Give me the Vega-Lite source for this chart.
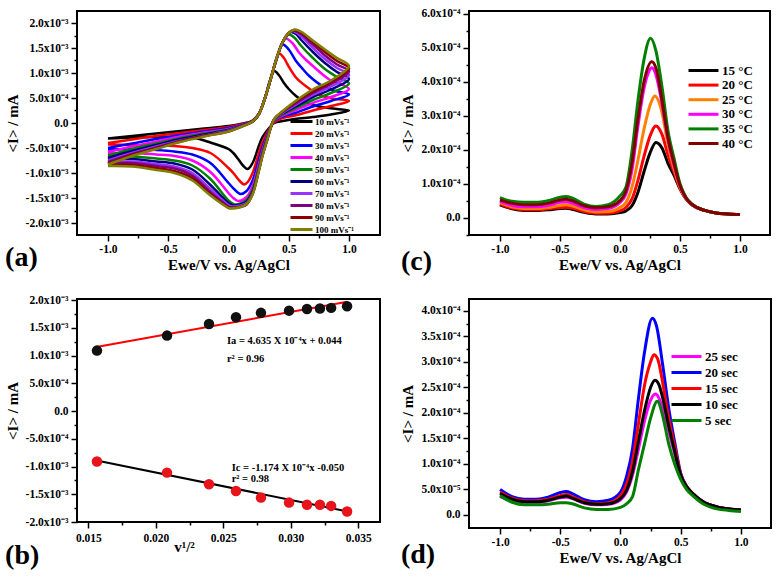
{
"$schema": "https://vega.github.io/schema/vega-lite/v6.json",
"background": "white",
"padding": {"left": 4, "top": 6, "right": 2, "bottom": 2},
"config": {
 "font": "Liberation Serif",
 "view": {"stroke": "black", "strokeWidth": 2},
 "axis": {"grid": false, "domain": false, "labelFont": "Liberation Serif", "labelFontWeight": "bold", "labelFontSize": 11.5, "labelColor": "black", "titleFont": "Liberation Serif", "titleFontWeight": "bold", "titleFontSize": 15, "titleColor": "black", "tickColor": "black", "tickWidth": 1.5, "tickSize": 6, "labelFlush": false, "labelOverlap": false},
 "legend": {"labelFont": "Liberation Serif", "labelFontWeight": "bold", "labelColor": "black", "padding": 0, "symbolStrokeWidth": 3},
 "title": {"font": "Liberation Serif", "fontWeight": "bold", "fontSize": 28, "color": "black"}
},
"datasets": {
 "cv": [
  {"s":10,"e":-1,"i":-0.31e-3},{"s":10,"e":-0.8,"i":-0.26e-3},{"s":10,"e":-0.6,"i":-0.21e-3},{"s":10,"e":-0.4,"i":-0.16e-3},{"s":10,"e":-0.2,"i":-0.11e-3},{"s":10,"e":0,"i":-0.06e-3},{"s":10,"e":0.1,"i":-0.02e-3},{"s":10,"e":0.2,"i":0.05e-3},{"s":10,"e":0.25,"i":0.18e-3},{"s":10,"e":0.3,"i":0.47e-3},{"s":10,"e":0.34,"i":0.82e-3},{"s":10,"e":0.38,"i":1.04e-3},{"s":10,"e":0.42,"i":0.95e-3},{"s":10,"e":0.46,"i":0.8e-3},{"s":10,"e":0.5,"i":0.68e-3},{"s":10,"e":0.56,"i":0.54e-3},{"s":10,"e":0.62,"i":0.44e-3},{"s":10,"e":0.7,"i":0.36e-3},{"s":10,"e":0.8,"i":0.31e-3},{"s":10,"e":0.9,"i":0.28e-3},{"s":10,"e":1,"i":0.25e-3},
  {"s":10,"e":0.85,"i":0.17e-3},{"s":10,"e":0.7,"i":0.12e-3},{"s":10,"e":0.55,"i":0.08e-3},{"s":10,"e":0.45,"i":0.04e-3},{"s":10,"e":0.38,"i":0.0},{"s":10,"e":0.32,"i":-0.15e-3},{"s":10,"e":0.28,"i":-0.29e-3},{"s":10,"e":0.25,"i":-0.47e-3},{"s":10,"e":0.2,"i":-0.8e-3},{"s":10,"e":0.16,"i":-0.92e-3},{"s":10,"e":0.12,"i":-0.85e-3},{"s":10,"e":0.08,"i":-0.72e-3},{"s":10,"e":0.04,"i":-0.6e-3},{"s":10,"e":0,"i":-0.52e-3},{"s":10,"e":-0.15,"i":-0.39e-3},{"s":10,"e":-0.3,"i":-0.29e-3},{"s":10,"e":-0.45,"i":-0.28e-3},{"s":10,"e":-0.6,"i":-0.28e-3},{"s":10,"e":-0.8,"i":-0.29e-3},{"s":10,"e":-1,"i":-0.31e-3},

  {"s":20,"e":-1,"i":-0.4e-3},{"s":20,"e":-0.8,"i":-0.33e-3},{"s":20,"e":-0.6,"i":-0.26e-3},{"s":20,"e":-0.4,"i":-0.2e-3},{"s":20,"e":-0.2,"i":-0.14e-3},{"s":20,"e":0,"i":-0.08e-3},{"s":20,"e":0.1,"i":-0.03e-3},{"s":20,"e":0.2,"i":0.04e-3},{"s":20,"e":0.25,"i":0.17e-3},{"s":20,"e":0.3,"i":0.48e-3},{"s":20,"e":0.35,"i":0.88e-3},{"s":20,"e":0.39,"i":1.22e-3},{"s":20,"e":0.42,"i":1.39e-3},{"s":20,"e":0.46,"i":1.3e-3},{"s":20,"e":0.49,"i":1.17e-3},{"s":20,"e":0.56,"i":0.91e-3},{"s":20,"e":0.64,"i":0.74e-3},{"s":20,"e":0.75,"i":0.57e-3},{"s":20,"e":0.86,"i":0.49e-3},{"s":20,"e":1,"i":0.44e-3},
  {"s":20,"e":0.85,"i":0.34e-3},{"s":20,"e":0.7,"i":0.25e-3},{"s":20,"e":0.55,"i":0.15e-3},{"s":20,"e":0.45,"i":0.1e-3},{"s":20,"e":0.38,"i":0.02e-3},{"s":20,"e":0.32,"i":-0.2e-3},{"s":20,"e":0.28,"i":-0.4e-3},{"s":20,"e":0.25,"i":-0.62e-3},{"s":20,"e":0.2,"i":-1.0e-3},{"s":20,"e":0.16,"i":-1.18e-3},{"s":20,"e":0.13,"i":-1.23e-3},{"s":20,"e":0.09,"i":-1.15e-3},{"s":20,"e":0.05,"i":-1.03e-3},{"s":20,"e":0,"i":-0.9e-3},{"s":20,"e":-0.15,"i":-0.6e-3},{"s":20,"e":-0.3,"i":-0.5e-3},{"s":20,"e":-0.45,"i":-0.46e-3},{"s":20,"e":-0.6,"i":-0.45e-3},{"s":20,"e":-0.8,"i":-0.44e-3},{"s":20,"e":-1,"i":-0.43e-3},

  {"s":30,"e":-1,"i":-0.5e-3},{"s":30,"e":-0.8,"i":-0.41e-3},{"s":30,"e":-0.6,"i":-0.32e-3},{"s":30,"e":-0.4,"i":-0.24e-3},{"s":30,"e":-0.2,"i":-0.17e-3},{"s":30,"e":0,"i":-0.1e-3},{"s":30,"e":0.1,"i":-0.04e-3},{"s":30,"e":0.2,"i":0.03e-3},{"s":30,"e":0.25,"i":0.17e-3},{"s":30,"e":0.3,"i":0.48e-3},{"s":30,"e":0.35,"i":0.88e-3},{"s":30,"e":0.4,"i":1.28e-3},{"s":30,"e":0.45,"i":1.57e-3},{"s":30,"e":0.5,"i":1.47e-3},{"s":30,"e":0.56,"i":1.24e-3},{"s":30,"e":0.62,"i":1.07e-3},{"s":30,"e":0.67,"i":0.94e-3},{"s":30,"e":0.78,"i":0.74e-3},{"s":30,"e":0.89,"i":0.64e-3},{"s":30,"e":1,"i":0.57e-3},
  {"s":30,"e":0.85,"i":0.44e-3},{"s":30,"e":0.7,"i":0.33e-3},{"s":30,"e":0.55,"i":0.2e-3},{"s":30,"e":0.45,"i":0.13e-3},{"s":30,"e":0.38,"i":0.04e-3},{"s":30,"e":0.32,"i":-0.25e-3},{"s":30,"e":0.28,"i":-0.5e-3},{"s":30,"e":0.25,"i":-0.75e-3},{"s":30,"e":0.2,"i":-1.15e-3},{"s":30,"e":0.15,"i":-1.36e-3},{"s":30,"e":0.1,"i":-1.42e-3},{"s":30,"e":0.05,"i":-1.33e-3},{"s":30,"e":0,"i":-1.2e-3},{"s":30,"e":-0.15,"i":-0.8e-3},{"s":30,"e":-0.3,"i":-0.63e-3},{"s":30,"e":-0.45,"i":-0.57e-3},{"s":30,"e":-0.6,"i":-0.54e-3},{"s":30,"e":-0.8,"i":-0.52e-3},{"s":30,"e":-1,"i":-0.53e-3},

  {"s":40,"e":-1,"i":-0.58e-3},{"s":40,"e":-0.8,"i":-0.47e-3},{"s":40,"e":-0.6,"i":-0.37e-3},{"s":40,"e":-0.4,"i":-0.27e-3},{"s":40,"e":-0.2,"i":-0.19e-3},{"s":40,"e":0,"i":-0.12e-3},{"s":40,"e":0.1,"i":-0.05e-3},{"s":40,"e":0.2,"i":0.03e-3},{"s":40,"e":0.25,"i":0.17e-3},{"s":40,"e":0.3,"i":0.48e-3},{"s":40,"e":0.35,"i":0.88e-3},{"s":40,"e":0.4,"i":1.29e-3},{"s":40,"e":0.44,"i":1.58e-3},{"s":40,"e":0.475,"i":1.69e-3},{"s":40,"e":0.53,"i":1.6e-3},{"s":40,"e":0.585,"i":1.41e-3},{"s":40,"e":0.64,"i":1.27e-3},{"s":40,"e":0.7,"i":1.14e-3},{"s":40,"e":0.83,"i":0.88e-3},{"s":40,"e":1,"i":0.68e-3},
  {"s":40,"e":0.85,"i":0.52e-3},{"s":40,"e":0.7,"i":0.4e-3},{"s":40,"e":0.55,"i":0.25e-3},{"s":40,"e":0.45,"i":0.15e-3},{"s":40,"e":0.38,"i":0.05e-3},{"s":40,"e":0.32,"i":-0.28e-3},{"s":40,"e":0.28,"i":-0.56e-3},{"s":40,"e":0.25,"i":-0.84e-3},{"s":40,"e":0.2,"i":-1.26e-3},{"s":40,"e":0.15,"i":-1.48e-3},{"s":40,"e":0.08,"i":-1.56e-3},{"s":40,"e":0.04,"i":-1.5e-3},{"s":40,"e":0,"i":-1.4e-3},{"s":40,"e":-0.15,"i":-0.98e-3},{"s":40,"e":-0.3,"i":-0.75e-3},{"s":40,"e":-0.45,"i":-0.66e-3},{"s":40,"e":-0.6,"i":-0.63e-3},{"s":40,"e":-0.8,"i":-0.6e-3},{"s":40,"e":-1,"i":-0.61e-3},

  {"s":50,"e":-1,"i":-0.65e-3},{"s":50,"e":-0.8,"i":-0.52e-3},{"s":50,"e":-0.6,"i":-0.41e-3},{"s":50,"e":-0.4,"i":-0.3e-3},{"s":50,"e":-0.2,"i":-0.21e-3},{"s":50,"e":0,"i":-0.13e-3},{"s":50,"e":0.1,"i":-0.06e-3},{"s":50,"e":0.2,"i":0.03e-3},{"s":50,"e":0.25,"i":0.17e-3},{"s":50,"e":0.3,"i":0.48e-3},{"s":50,"e":0.35,"i":0.88e-3},{"s":50,"e":0.4,"i":1.29e-3},{"s":50,"e":0.45,"i":1.61e-3},{"s":50,"e":0.5,"i":1.77e-3},{"s":50,"e":0.55,"i":1.7e-3},{"s":50,"e":0.6,"i":1.55e-3},{"s":50,"e":0.7,"i":1.3e-3},{"s":50,"e":0.8,"i":1.08e-3},{"s":50,"e":0.9,"i":0.92e-3},{"s":50,"e":1,"i":0.79e-3},
  {"s":50,"e":0.85,"i":0.6e-3},{"s":50,"e":0.7,"i":0.46e-3},{"s":50,"e":0.55,"i":0.29e-3},{"s":50,"e":0.45,"i":0.17e-3},{"s":50,"e":0.38,"i":0.06e-3},{"s":50,"e":0.32,"i":-0.3e-3},{"s":50,"e":0.28,"i":-0.6e-3},{"s":50,"e":0.25,"i":-0.89e-3},{"s":50,"e":0.2,"i":-1.33e-3},{"s":50,"e":0.15,"i":-1.54e-3},{"s":50,"e":0.1,"i":-1.61e-3},{"s":50,"e":0.05,"i":-1.63e-3},{"s":50,"e":0,"i":-1.55e-3},{"s":50,"e":-0.15,"i":-1.12e-3},{"s":50,"e":-0.3,"i":-0.85e-3},{"s":50,"e":-0.45,"i":-0.75e-3},{"s":50,"e":-0.6,"i":-0.71e-3},{"s":50,"e":-0.8,"i":-0.67e-3},{"s":50,"e":-1,"i":-0.68e-3},

  {"s":60,"e":-1,"i":-0.7e-3},{"s":60,"e":-0.8,"i":-0.56e-3},{"s":60,"e":-0.6,"i":-0.44e-3},{"s":60,"e":-0.4,"i":-0.32e-3},{"s":60,"e":-0.2,"i":-0.23e-3},{"s":60,"e":0,"i":-0.14e-3},{"s":60,"e":0.1,"i":-0.06e-3},{"s":60,"e":0.2,"i":0.03e-3},{"s":60,"e":0.25,"i":0.17e-3},{"s":60,"e":0.3,"i":0.48e-3},{"s":60,"e":0.35,"i":0.88e-3},{"s":60,"e":0.4,"i":1.3e-3},{"s":60,"e":0.45,"i":1.62e-3},{"s":60,"e":0.515,"i":1.82e-3},{"s":60,"e":0.56,"i":1.78e-3},{"s":60,"e":0.6,"i":1.67e-3},{"s":60,"e":0.7,"i":1.42e-3},{"s":60,"e":0.8,"i":1.2e-3},{"s":60,"e":0.9,"i":1.02e-3},{"s":60,"e":1,"i":0.88e-3},
  {"s":60,"e":0.85,"i":0.67e-3},{"s":60,"e":0.7,"i":0.52e-3},{"s":60,"e":0.55,"i":0.32e-3},{"s":60,"e":0.45,"i":0.19e-3},{"s":60,"e":0.38,"i":0.07e-3},{"s":60,"e":0.32,"i":-0.32e-3},{"s":60,"e":0.28,"i":-0.63e-3},{"s":60,"e":0.25,"i":-0.93e-3},{"s":60,"e":0.2,"i":-1.37e-3},{"s":60,"e":0.15,"i":-1.57e-3},{"s":60,"e":0.1,"i":-1.63e-3},{"s":60,"e":0.04,"i":-1.65e-3},{"s":60,"e":0,"i":-1.6e-3},{"s":60,"e":-0.15,"i":-1.24e-3},{"s":60,"e":-0.3,"i":-0.93e-3},{"s":60,"e":-0.45,"i":-0.81e-3},{"s":60,"e":-0.6,"i":-0.77e-3},{"s":60,"e":-0.8,"i":-0.72e-3},{"s":60,"e":-1,"i":-0.73e-3},

  {"s":70,"e":-1,"i":-0.75e-3},{"s":70,"e":-0.8,"i":-0.6e-3},{"s":70,"e":-0.6,"i":-0.47e-3},{"s":70,"e":-0.4,"i":-0.35e-3},{"s":70,"e":-0.2,"i":-0.25e-3},{"s":70,"e":0,"i":-0.15e-3},{"s":70,"e":0.1,"i":-0.07e-3},{"s":70,"e":0.2,"i":0.03e-3},{"s":70,"e":0.25,"i":0.17e-3},{"s":70,"e":0.3,"i":0.48e-3},{"s":70,"e":0.35,"i":0.88e-3},{"s":70,"e":0.4,"i":1.3e-3},{"s":70,"e":0.45,"i":1.62e-3},{"s":70,"e":0.5,"i":1.8e-3},{"s":70,"e":0.53,"i":1.84e-3},{"s":70,"e":0.6,"i":1.74e-3},{"s":70,"e":0.7,"i":1.5e-3},{"s":70,"e":0.8,"i":1.28e-3},{"s":70,"e":0.9,"i":1.1e-3},{"s":70,"e":1,"i":0.96e-3},
  {"s":70,"e":0.85,"i":0.73e-3},{"s":70,"e":0.7,"i":0.56e-3},{"s":70,"e":0.55,"i":0.35e-3},{"s":70,"e":0.45,"i":0.2e-3},{"s":70,"e":0.38,"i":0.07e-3},{"s":70,"e":0.32,"i":-0.33e-3},{"s":70,"e":0.28,"i":-0.65e-3},{"s":70,"e":0.25,"i":-0.95e-3},{"s":70,"e":0.2,"i":-1.4e-3},{"s":70,"e":0.15,"i":-1.6e-3},{"s":70,"e":0.1,"i":-1.65e-3},{"s":70,"e":0.03,"i":-1.67e-3},{"s":70,"e":0,"i":-1.64e-3},{"s":70,"e":-0.15,"i":-1.32e-3},{"s":70,"e":-0.3,"i":-1.0e-3},{"s":70,"e":-0.45,"i":-0.87e-3},{"s":70,"e":-0.6,"i":-0.82e-3},{"s":70,"e":-0.8,"i":-0.77e-3},{"s":70,"e":-1,"i":-0.78e-3},

  {"s":80,"e":-1,"i":-0.78e-3},{"s":80,"e":-0.8,"i":-0.62e-3},{"s":80,"e":-0.6,"i":-0.49e-3},{"s":80,"e":-0.4,"i":-0.36e-3},{"s":80,"e":-0.2,"i":-0.25e-3},{"s":80,"e":0,"i":-0.16e-3},{"s":80,"e":0.1,"i":-0.07e-3},{"s":80,"e":0.2,"i":0.03e-3},{"s":80,"e":0.25,"i":0.17e-3},{"s":80,"e":0.3,"i":0.48e-3},{"s":80,"e":0.35,"i":0.88e-3},{"s":80,"e":0.4,"i":1.3e-3},{"s":80,"e":0.45,"i":1.62e-3},{"s":80,"e":0.5,"i":1.8e-3},{"s":80,"e":0.54,"i":1.85e-3},{"s":80,"e":0.6,"i":1.78e-3},{"s":80,"e":0.7,"i":1.57e-3},{"s":80,"e":0.8,"i":1.35e-3},{"s":80,"e":0.9,"i":1.17e-3},{"s":80,"e":1,"i":1.03e-3},
  {"s":80,"e":0.85,"i":0.78e-3},{"s":80,"e":0.7,"i":0.6e-3},{"s":80,"e":0.55,"i":0.38e-3},{"s":80,"e":0.45,"i":0.22e-3},{"s":80,"e":0.38,"i":0.08e-3},{"s":80,"e":0.32,"i":-0.34e-3},{"s":80,"e":0.28,"i":-0.66e-3},{"s":80,"e":0.25,"i":-0.96e-3},{"s":80,"e":0.2,"i":-1.41e-3},{"s":80,"e":0.15,"i":-1.62e-3},{"s":80,"e":0.1,"i":-1.67e-3},{"s":80,"e":0.025,"i":-1.69e-3},{"s":80,"e":0,"i":-1.67e-3},{"s":80,"e":-0.15,"i":-1.38e-3},{"s":80,"e":-0.3,"i":-1.05e-3},{"s":80,"e":-0.45,"i":-0.91e-3},{"s":80,"e":-0.6,"i":-0.86e-3},{"s":80,"e":-0.8,"i":-0.8e-3},{"s":80,"e":-1,"i":-0.81e-3},

  {"s":90,"e":-1,"i":-0.81e-3},{"s":90,"e":-0.8,"i":-0.64e-3},{"s":90,"e":-0.6,"i":-0.51e-3},{"s":90,"e":-0.4,"i":-0.37e-3},{"s":90,"e":-0.2,"i":-0.26e-3},{"s":90,"e":0,"i":-0.17e-3},{"s":90,"e":0.1,"i":-0.08e-3},{"s":90,"e":0.2,"i":0.03e-3},{"s":90,"e":0.25,"i":0.17e-3},{"s":90,"e":0.3,"i":0.48e-3},{"s":90,"e":0.35,"i":0.88e-3},{"s":90,"e":0.4,"i":1.3e-3},{"s":90,"e":0.45,"i":1.62e-3},{"s":90,"e":0.5,"i":1.8e-3},{"s":90,"e":0.545,"i":1.86e-3},{"s":90,"e":0.6,"i":1.81e-3},{"s":90,"e":0.7,"i":1.62e-3},{"s":90,"e":0.8,"i":1.42e-3},{"s":90,"e":0.9,"i":1.24e-3},{"s":90,"e":1,"i":1.09e-3},
  {"s":90,"e":0.85,"i":0.82e-3},{"s":90,"e":0.7,"i":0.63e-3},{"s":90,"e":0.55,"i":0.41e-3},{"s":90,"e":0.45,"i":0.23e-3},{"s":90,"e":0.38,"i":0.08e-3},{"s":90,"e":0.32,"i":-0.35e-3},{"s":90,"e":0.28,"i":-0.67e-3},{"s":90,"e":0.25,"i":-0.97e-3},{"s":90,"e":0.2,"i":-1.42e-3},{"s":90,"e":0.15,"i":-1.63e-3},{"s":90,"e":0.1,"i":-1.68e-3},{"s":90,"e":0.02,"i":-1.7e-3},{"s":90,"e":0,"i":-1.69e-3},{"s":90,"e":-0.15,"i":-1.42e-3},{"s":90,"e":-0.3,"i":-1.1e-3},{"s":90,"e":-0.45,"i":-0.96e-3},{"s":90,"e":-0.6,"i":-0.9e-3},{"s":90,"e":-0.8,"i":-0.84e-3},{"s":90,"e":-1,"i":-0.85e-3},

  {"s":100,"e":-1,"i":-0.83e-3},{"s":100,"e":-0.8,"i":-0.66e-3},{"s":100,"e":-0.6,"i":-0.52e-3},{"s":100,"e":-0.4,"i":-0.38e-3},{"s":100,"e":-0.2,"i":-0.27e-3},{"s":100,"e":0,"i":-0.17e-3},{"s":100,"e":0.1,"i":-0.08e-3},{"s":100,"e":0.2,"i":0.03e-3},{"s":100,"e":0.25,"i":0.17e-3},{"s":100,"e":0.3,"i":0.48e-3},{"s":100,"e":0.35,"i":0.88e-3},{"s":100,"e":0.4,"i":1.3e-3},{"s":100,"e":0.45,"i":1.62e-3},{"s":100,"e":0.5,"i":1.8e-3},{"s":100,"e":0.55,"i":1.87e-3},{"s":100,"e":0.6,"i":1.83e-3},{"s":100,"e":0.7,"i":1.65e-3},{"s":100,"e":0.8,"i":1.47e-3},{"s":100,"e":0.9,"i":1.3e-3},{"s":100,"e":1,"i":1.14e-3},
  {"s":100,"e":0.85,"i":0.85e-3},{"s":100,"e":0.7,"i":0.67e-3},{"s":100,"e":0.55,"i":0.43e-3},{"s":100,"e":0.45,"i":0.24e-3},{"s":100,"e":0.38,"i":0.08e-3},{"s":100,"e":0.32,"i":-0.35e-3},{"s":100,"e":0.28,"i":-0.68e-3},{"s":100,"e":0.25,"i":-0.98e-3},{"s":100,"e":0.2,"i":-1.43e-3},{"s":100,"e":0.15,"i":-1.62e-3},{"s":100,"e":0.1,"i":-1.68e-3},{"s":100,"e":0.02,"i":-1.71e-3},{"s":100,"e":0,"i":-1.7e-3},{"s":100,"e":-0.15,"i":-1.45e-3},{"s":100,"e":-0.3,"i":-1.15e-3},{"s":100,"e":-0.45,"i":-1.0e-3},{"s":100,"e":-0.6,"i":-0.94e-3},{"s":100,"e":-0.8,"i":-0.87e-3},{"s":100,"e":-1,"i":-0.86e-3}
 ],
 "pts": [
  {"g":"Ia","x":0.01564,"y":1.09e-3},{"g":"Ia","x":0.02083,"y":1.36e-3},{"g":"Ia","x":0.02394,"y":1.57e-3},{"g":"Ia","x":0.02594,"y":1.69e-3},{"g":"Ia","x":0.02779,"y":1.77e-3},{"g":"Ia","x":0.02987,"y":1.81e-3},{"g":"Ia","x":0.0312,"y":1.84e-3},{"g":"Ia","x":0.03216,"y":1.85e-3},{"g":"Ia","x":0.03299,"y":1.86e-3},{"g":"Ia","x":0.03417,"y":1.89e-3},
  {"g":"Ic","x":0.01564,"y":-0.91e-3},{"g":"Ic","x":0.02083,"y":-1.11e-3},{"g":"Ic","x":0.02394,"y":-1.32e-3},{"g":"Ic","x":0.02594,"y":-1.44e-3},{"g":"Ic","x":0.02779,"y":-1.56e-3},{"g":"Ic","x":0.02987,"y":-1.65e-3},{"g":"Ic","x":0.0312,"y":-1.69e-3},{"g":"Ic","x":0.03216,"y":-1.69e-3},{"g":"Ic","x":0.03299,"y":-1.71e-3},{"g":"Ic","x":0.03417,"y":-1.81e-3}
 ],
 "fit": [
  {"g":"Ia","x":0.0157,"y":1.16e-3},{"g":"Ia","x":0.0342,"y":1.97e-3},
  {"g":"Ic","x":0.0157,"y":-0.895e-3},{"g":"Ic","x":0.0342,"y":-1.81e-3}
 ],
 "notes": [
  {"x":0.02527,"y":1.26e-3,"t":"Ia = 4.635 X 10⁻⁴x + 0.044"},
  {"x":0.02527,"y":0.94e-3,"t":"r² = 0.96"},
  {"x":0.02562,"y":-1.02e-3,"t":"Ic = -1.174 X 10⁻⁴x -0.050"},
  {"x":0.02562,"y":-1.22e-3,"t":"r² = 0.98"}
 ],
 "temp": [
  {"t":15,"e":-1,"i":0.38e-4},{"t":15,"e":-0.9,"i":0.26e-4},{"t":15,"e":-0.8,"i":0.21e-4},{"t":15,"e":-0.7,"i":0.21e-4},{"t":15,"e":-0.6,"i":0.23e-4},{"t":15,"e":-0.5,"i":0.27e-4},{"t":15,"e":-0.45,"i":0.28e-4},{"t":15,"e":-0.4,"i":0.25e-4},{"t":15,"e":-0.3,"i":0.16e-4},{"t":15,"e":-0.2,"i":0.11e-4},{"t":15,"e":-0.1,"i":0.11e-4},{"t":15,"e":0,"i":0.15e-4},{"t":15,"e":0.05,"i":0.2e-4},{"t":15,"e":0.1,"i":0.35e-4},{"t":15,"e":0.15,"i":0.75e-4},{"t":15,"e":0.2,"i":1.35e-4},{"t":15,"e":0.25,"i":1.9e-4},{"t":15,"e":0.3,"i":2.21e-4},{"t":15,"e":0.35,"i":2.05e-4},{"t":15,"e":0.4,"i":1.6e-4},{"t":15,"e":0.45,"i":1.25e-4},{"t":15,"e":0.5,"i":0.85e-4},{"t":15,"e":0.55,"i":0.55e-4},{"t":15,"e":0.6,"i":0.38e-4},{"t":15,"e":0.7,"i":0.22e-4},{"t":15,"e":0.8,"i":0.14e-4},{"t":15,"e":0.9,"i":0.11e-4},{"t":15,"e":1,"i":0.09e-4},
  {"t":20,"e":-1,"i":0.4e-4},{"t":20,"e":-0.9,"i":0.28e-4},{"t":20,"e":-0.8,"i":0.23e-4},{"t":20,"e":-0.7,"i":0.23e-4},{"t":20,"e":-0.6,"i":0.26e-4},{"t":20,"e":-0.5,"i":0.3e-4},{"t":20,"e":-0.45,"i":0.31e-4},{"t":20,"e":-0.4,"i":0.28e-4},{"t":20,"e":-0.3,"i":0.18e-4},{"t":20,"e":-0.2,"i":0.13e-4},{"t":20,"e":-0.1,"i":0.13e-4},{"t":20,"e":0,"i":0.2e-4},{"t":20,"e":0.05,"i":0.3e-4},{"t":20,"e":0.1,"i":0.55e-4},{"t":20,"e":0.15,"i":1.1e-4},{"t":20,"e":0.2,"i":1.8e-4},{"t":20,"e":0.25,"i":2.4e-4},{"t":20,"e":0.3,"i":2.7e-4},{"t":20,"e":0.35,"i":2.45e-4},{"t":20,"e":0.4,"i":1.85e-4},{"t":20,"e":0.45,"i":1.35e-4},{"t":20,"e":0.5,"i":0.87e-4},{"t":20,"e":0.55,"i":0.56e-4},{"t":20,"e":0.6,"i":0.38e-4},{"t":20,"e":0.7,"i":0.22e-4},{"t":20,"e":0.8,"i":0.14e-4},{"t":20,"e":0.9,"i":0.11e-4},{"t":20,"e":1,"i":0.09e-4},
  {"t":25,"e":-1,"i":0.44e-4},{"t":25,"e":-0.9,"i":0.32e-4},{"t":25,"e":-0.8,"i":0.27e-4},{"t":25,"e":-0.7,"i":0.27e-4},{"t":25,"e":-0.6,"i":0.3e-4},{"t":25,"e":-0.5,"i":0.36e-4},{"t":25,"e":-0.45,"i":0.38e-4},{"t":25,"e":-0.4,"i":0.35e-4},{"t":25,"e":-0.3,"i":0.23e-4},{"t":25,"e":-0.2,"i":0.17e-4},{"t":25,"e":-0.1,"i":0.18e-4},{"t":25,"e":0,"i":0.3e-4},{"t":25,"e":0.05,"i":0.45e-4},{"t":25,"e":0.1,"i":0.9e-4},{"t":25,"e":0.15,"i":1.7e-4},{"t":25,"e":0.2,"i":2.6e-4},{"t":25,"e":0.25,"i":3.3e-4},{"t":25,"e":0.29,"i":3.58e-4},{"t":25,"e":0.35,"i":3.1e-4},{"t":25,"e":0.4,"i":2.15e-4},{"t":25,"e":0.45,"i":1.45e-4},{"t":25,"e":0.5,"i":0.9e-4},{"t":25,"e":0.55,"i":0.57e-4},{"t":25,"e":0.6,"i":0.39e-4},{"t":25,"e":0.7,"i":0.22e-4},{"t":25,"e":0.8,"i":0.14e-4},{"t":25,"e":0.9,"i":0.11e-4},{"t":25,"e":1,"i":0.09e-4},
  {"t":30,"e":-1,"i":0.48e-4},{"t":30,"e":-0.9,"i":0.36e-4},{"t":30,"e":-0.8,"i":0.32e-4},{"t":30,"e":-0.7,"i":0.32e-4},{"t":30,"e":-0.6,"i":0.36e-4},{"t":30,"e":-0.5,"i":0.45e-4},{"t":30,"e":-0.45,"i":0.47e-4},{"t":30,"e":-0.4,"i":0.43e-4},{"t":30,"e":-0.3,"i":0.3e-4},{"t":30,"e":-0.2,"i":0.24e-4},{"t":30,"e":-0.1,"i":0.27e-4},{"t":30,"e":0,"i":0.45e-4},{"t":30,"e":0.05,"i":0.7e-4},{"t":30,"e":0.1,"i":1.4e-4},{"t":30,"e":0.15,"i":2.7e-4},{"t":30,"e":0.2,"i":3.8e-4},{"t":30,"e":0.235,"i":4.25e-4},{"t":30,"e":0.265,"i":4.41e-4},{"t":30,"e":0.3,"i":4.2e-4},{"t":30,"e":0.35,"i":3.35e-4},{"t":30,"e":0.4,"i":2.3e-4},{"t":30,"e":0.45,"i":1.55e-4},{"t":30,"e":0.5,"i":0.95e-4},{"t":30,"e":0.55,"i":0.58e-4},{"t":30,"e":0.6,"i":0.39e-4},{"t":30,"e":0.7,"i":0.22e-4},{"t":30,"e":0.8,"i":0.14e-4},{"t":30,"e":0.9,"i":0.11e-4},{"t":30,"e":1,"i":0.09e-4},
  {"t":35,"e":-1,"i":0.59e-4},{"t":35,"e":-0.9,"i":0.48e-4},{"t":35,"e":-0.8,"i":0.45e-4},{"t":35,"e":-0.7,"i":0.45e-4},{"t":35,"e":-0.6,"i":0.5e-4},{"t":35,"e":-0.5,"i":0.6e-4},{"t":35,"e":-0.45,"i":0.62e-4},{"t":35,"e":-0.4,"i":0.58e-4},{"t":35,"e":-0.3,"i":0.4e-4},{"t":35,"e":-0.2,"i":0.33e-4},{"t":35,"e":-0.1,"i":0.38e-4},{"t":35,"e":0,"i":0.64e-4},{"t":35,"e":0.05,"i":0.9e-4},{"t":35,"e":0.1,"i":1.95e-4},{"t":35,"e":0.15,"i":3.45e-4},{"t":35,"e":0.2,"i":4.65e-4},{"t":35,"e":0.255,"i":5.28e-4},{"t":35,"e":0.3,"i":4.9e-4},{"t":35,"e":0.35,"i":3.85e-4},{"t":35,"e":0.4,"i":2.55e-4},{"t":35,"e":0.45,"i":1.75e-4},{"t":35,"e":0.5,"i":1.0e-4},{"t":35,"e":0.55,"i":0.6e-4},{"t":35,"e":0.6,"i":0.4e-4},{"t":35,"e":0.7,"i":0.22e-4},{"t":35,"e":0.8,"i":0.14e-4},{"t":35,"e":0.9,"i":0.11e-4},{"t":35,"e":1,"i":0.09e-4},
  {"t":40,"e":-1,"i":0.52e-4},{"t":40,"e":-0.9,"i":0.42e-4},{"t":40,"e":-0.8,"i":0.38e-4},{"t":40,"e":-0.7,"i":0.38e-4},{"t":40,"e":-0.6,"i":0.42e-4},{"t":40,"e":-0.5,"i":0.52e-4},{"t":40,"e":-0.45,"i":0.54e-4},{"t":40,"e":-0.4,"i":0.5e-4},{"t":40,"e":-0.3,"i":0.35e-4},{"t":40,"e":-0.2,"i":0.29e-4},{"t":40,"e":-0.1,"i":0.32e-4},{"t":40,"e":0,"i":0.5e-4},{"t":40,"e":0.05,"i":0.78e-4},{"t":40,"e":0.1,"i":1.6e-4},{"t":40,"e":0.15,"i":2.9e-4},{"t":40,"e":0.2,"i":4.0e-4},{"t":40,"e":0.265,"i":4.59e-4},{"t":40,"e":0.3,"i":4.4e-4},{"t":40,"e":0.35,"i":3.45e-4},{"t":40,"e":0.4,"i":2.35e-4},{"t":40,"e":0.45,"i":1.6e-4},{"t":40,"e":0.5,"i":0.95e-4},{"t":40,"e":0.55,"i":0.58e-4},{"t":40,"e":0.6,"i":0.39e-4},{"t":40,"e":0.7,"i":0.22e-4},{"t":40,"e":0.8,"i":0.14e-4},{"t":40,"e":0.9,"i":0.11e-4},{"t":40,"e":1,"i":0.09e-4}
 ],
 "time": [
  {"t":25,"e":-1,"i":0.36e-4},{"t":25,"e":-0.9,"i":0.28e-4},{"t":25,"e":-0.8,"i":0.25e-4},{"t":25,"e":-0.7,"i":0.25e-4},{"t":25,"e":-0.6,"i":0.28e-4},{"t":25,"e":-0.5,"i":0.34e-4},{"t":25,"e":-0.45,"i":0.35e-4},{"t":25,"e":-0.4,"i":0.32e-4},{"t":25,"e":-0.3,"i":0.23e-4},{"t":25,"e":-0.2,"i":0.2e-4},{"t":25,"e":-0.1,"i":0.21e-4},{"t":25,"e":0,"i":0.3e-4},{"t":25,"e":0.05,"i":0.45e-4},{"t":25,"e":0.1,"i":0.78e-4},{"t":25,"e":0.15,"i":1.3e-4},{"t":25,"e":0.2,"i":1.85e-4},{"t":25,"e":0.25,"i":2.25e-4},{"t":25,"e":0.29,"i":2.37e-4},{"t":25,"e":0.35,"i":2.1e-4},{"t":25,"e":0.4,"i":1.65e-4},{"t":25,"e":0.45,"i":1.2e-4},{"t":25,"e":0.5,"i":0.76e-4},{"t":25,"e":0.55,"i":0.55e-4},{"t":25,"e":0.6,"i":0.42e-4},{"t":25,"e":0.7,"i":0.24e-4},{"t":25,"e":0.8,"i":0.16e-4},{"t":25,"e":0.9,"i":0.12e-4},{"t":25,"e":1,"i":0.1e-4},
  {"t":20,"e":-1,"i":0.5e-4},{"t":20,"e":-0.9,"i":0.36e-4},{"t":20,"e":-0.8,"i":0.31e-4},{"t":20,"e":-0.7,"i":0.31e-4},{"t":20,"e":-0.6,"i":0.35e-4},{"t":20,"e":-0.5,"i":0.44e-4},{"t":20,"e":-0.45,"i":0.46e-4},{"t":20,"e":-0.4,"i":0.42e-4},{"t":20,"e":-0.3,"i":0.3e-4},{"t":20,"e":-0.2,"i":0.26e-4},{"t":20,"e":-0.1,"i":0.29e-4},{"t":20,"e":0,"i":0.45e-4},{"t":20,"e":0.05,"i":0.75e-4},{"t":20,"e":0.1,"i":1.3e-4},{"t":20,"e":0.15,"i":2.3e-4},{"t":20,"e":0.2,"i":3.2e-4},{"t":20,"e":0.265,"i":3.86e-4},{"t":20,"e":0.3,"i":3.7e-4},{"t":20,"e":0.35,"i":2.95e-4},{"t":20,"e":0.4,"i":2.1e-4},{"t":20,"e":0.45,"i":1.43e-4},{"t":20,"e":0.5,"i":0.82e-4},{"t":20,"e":0.55,"i":0.56e-4},{"t":20,"e":0.6,"i":0.42e-4},{"t":20,"e":0.7,"i":0.24e-4},{"t":20,"e":0.8,"i":0.16e-4},{"t":20,"e":0.9,"i":0.12e-4},{"t":20,"e":1,"i":0.1e-4},
  {"t":15,"e":-1,"i":0.45e-4},{"t":15,"e":-0.9,"i":0.33e-4},{"t":15,"e":-0.8,"i":0.28e-4},{"t":15,"e":-0.7,"i":0.28e-4},{"t":15,"e":-0.6,"i":0.31e-4},{"t":15,"e":-0.5,"i":0.38e-4},{"t":15,"e":-0.45,"i":0.4e-4},{"t":15,"e":-0.4,"i":0.36e-4},{"t":15,"e":-0.3,"i":0.26e-4},{"t":15,"e":-0.2,"i":0.22e-4},{"t":15,"e":-0.1,"i":0.24e-4},{"t":15,"e":0,"i":0.38e-4},{"t":15,"e":0.05,"i":0.6e-4},{"t":15,"e":0.1,"i":1.05e-4},{"t":15,"e":0.15,"i":1.8e-4},{"t":15,"e":0.2,"i":2.55e-4},{"t":15,"e":0.25,"i":3.0e-4},{"t":15,"e":0.278,"i":3.14e-4},{"t":15,"e":0.31,"i":3.05e-4},{"t":15,"e":0.35,"i":2.6e-4},{"t":15,"e":0.4,"i":1.9e-4},{"t":15,"e":0.45,"i":1.35e-4},{"t":15,"e":0.5,"i":0.8e-4},{"t":15,"e":0.55,"i":0.56e-4},{"t":15,"e":0.6,"i":0.42e-4},{"t":15,"e":0.7,"i":0.24e-4},{"t":15,"e":0.8,"i":0.16e-4},{"t":15,"e":0.9,"i":0.12e-4},{"t":15,"e":1,"i":0.1e-4},
  {"t":10,"e":-1,"i":0.42e-4},{"t":10,"e":-0.9,"i":0.31e-4},{"t":10,"e":-0.8,"i":0.26e-4},{"t":10,"e":-0.7,"i":0.26e-4},{"t":10,"e":-0.6,"i":0.29e-4},{"t":10,"e":-0.5,"i":0.35e-4},{"t":10,"e":-0.45,"i":0.37e-4},{"t":10,"e":-0.4,"i":0.33e-4},{"t":10,"e":-0.3,"i":0.24e-4},{"t":10,"e":-0.2,"i":0.21e-4},{"t":10,"e":-0.1,"i":0.22e-4},{"t":10,"e":0,"i":0.32e-4},{"t":10,"e":0.05,"i":0.48e-4},{"t":10,"e":0.1,"i":0.85e-4},{"t":10,"e":0.15,"i":1.45e-4},{"t":10,"e":0.2,"i":2.05e-4},{"t":10,"e":0.25,"i":2.5e-4},{"t":10,"e":0.286,"i":2.64e-4},{"t":10,"e":0.32,"i":2.55e-4},{"t":10,"e":0.35,"i":2.3e-4},{"t":10,"e":0.4,"i":1.75e-4},{"t":10,"e":0.45,"i":1.25e-4},{"t":10,"e":0.5,"i":0.78e-4},{"t":10,"e":0.55,"i":0.55e-4},{"t":10,"e":0.6,"i":0.42e-4},{"t":10,"e":0.7,"i":0.24e-4},{"t":10,"e":0.8,"i":0.16e-4},{"t":10,"e":0.9,"i":0.12e-4},{"t":10,"e":1,"i":0.1e-4},
  {"t":5,"e":-1,"i":0.38e-4},{"t":5,"e":-0.9,"i":0.25e-4},{"t":5,"e":-0.8,"i":0.2e-4},{"t":5,"e":-0.7,"i":0.2e-4},{"t":5,"e":-0.6,"i":0.21e-4},{"t":5,"e":-0.5,"i":0.24e-4},{"t":5,"e":-0.45,"i":0.24e-4},{"t":5,"e":-0.4,"i":0.22e-4},{"t":5,"e":-0.3,"i":0.14e-4},{"t":5,"e":-0.2,"i":0.11e-4},{"t":5,"e":-0.1,"i":0.11e-4},{"t":5,"e":0,"i":0.15e-4},{"t":5,"e":0.05,"i":0.22e-4},{"t":5,"e":0.1,"i":0.36e-4},{"t":5,"e":0.15,"i":0.9e-4},{"t":5,"e":0.2,"i":1.4e-4},{"t":5,"e":0.25,"i":1.9e-4},{"t":5,"e":0.306,"i":2.23e-4},{"t":5,"e":0.35,"i":1.95e-4},{"t":5,"e":0.4,"i":1.4e-4},{"t":5,"e":0.45,"i":1.0e-4},{"t":5,"e":0.5,"i":0.7e-4},{"t":5,"e":0.55,"i":0.5e-4},{"t":5,"e":0.6,"i":0.38e-4},{"t":5,"e":0.7,"i":0.2e-4},{"t":5,"e":0.8,"i":0.12e-4},{"t":5,"e":0.9,"i":0.09e-4},{"t":5,"e":1,"i":0.07e-4}
 ]
},
"columns": 2,
"spacing": {"row": 64, "column": 89},
"bounds": "flush",
"resolve": {"scale": {"color": "independent", "x": "independent", "y": "independent"}, "legend": {"color": "independent"}},
"concat": [
  {
   "width": 303, "height": 224,
   "data": {"name": "cv"},
   "title": {"text": "(a)", "orient": "bottom", "anchor": "start", "frame": "bounds", "baseline": "alphabetic", "offset": 0, "dy": -7, "dx": 0},
   "mark": {"type": "line", "interpolate": "catmull-rom", "strokeWidth": 2.5},
   "encoding": {
    "x": {"field": "e", "type": "quantitative", "scale": {"domain": [-1.257, 1.257], "nice": false, "zero": false},
     "axis": {"values": [-1,-0.75,-0.5,-0.25,0,0.25,0.5,0.75,1], "labelExpr": "abs(datum.value/0.5-round(datum.value/0.5))>0.01 ? '' : (datum.value<0?'-':'') + format(abs(datum.value),'.1f')", "tickSize": {"condition": {"test": "abs(datum.value/0.5-round(datum.value/0.5))>0.01", "value": 3}, "value": 6}, "labelPadding": 2, "title": "Ewe/V vs. Ag/AgCl", "titlePadding": 3}},
    "y": {"field": "i", "type": "quantitative", "scale": {"domain": [-0.00224, 0.00224], "nice": false, "zero": false},
     "axis": {"values": [-0.002,-0.00175,-0.0015,-0.00125,-0.001,-0.00075,-0.0005,-0.00025,0,0.00025,0.0005,0.00075,0.001,0.00125,0.0015,0.00175,0.002], "labelExpr": "abs(datum.value/0.0005-round(datum.value/0.0005))>0.01 ? '' : abs(datum.value)<1e-12 ? '0.0' : (datum.value<0?'-':'') + format(abs(datum.value)/pow(10,floor(log(abs(datum.value))/LN10+1e-6)),'.1f') + (floor(log(abs(datum.value))/LN10+1e-6)==-3 ? 'x10⁻³' : floor(log(abs(datum.value))/LN10+1e-6)==-4 ? 'x10⁻⁴' : 'x10⁻⁵')", "tickSize": {"condition": {"test": "abs(datum.value/0.0005-round(datum.value/0.0005))>0.01", "value": 3}, "value": 6}, "labelPadding": 3, "title": "<I> / mA", "titlePadding": 5}},
    "color": {"field": "s", "type": "nominal", "scale": {"domain": [10,20,30,40,50,60,70,80,90,100], "range": ["#000000","#ff0000","#0000ff","#ff00ff","#008000","#000080","#9933ff","#800080","#8b0000","#808000"]},
     "legend": {"orient": "none", "legendX": 226, "legendY": 105, "title": null, "symbolType": "M-4.5,0H1", "symbolSize": 64, "symbolStrokeWidth": 3, "labelFontSize": 9, "labelExpr": "datum.label + ' mVs⁻¹'", "rowPadding": -1.1, "labelOffset": 1}},
    "strokeWidth": {"condition": {"test": "datum.s == 100", "value": 3.5}, "value": 2.5},
    "order": {"value": null}
   }
  },
  {
   "width": 301, "height": 224,
   "data": {"name": "temp"},
   "title": {"text": "(c)", "orient": "bottom", "anchor": "start", "frame": "bounds", "baseline": "alphabetic", "offset": 0, "dy": -3, "dx": 0},
   "mark": {"type": "line", "interpolate": "monotone", "strokeWidth": 3},
   "encoding": {
    "x": {"field": "e", "type": "quantitative", "scale": {"domain": [-1.258, 1.25], "nice": false, "zero": false},
     "axis": {"values": [-1,-0.75,-0.5,-0.25,0,0.25,0.5,0.75,1], "labelExpr": "abs(datum.value/0.5-round(datum.value/0.5))>0.01 ? '' : (datum.value<0?'-':'') + format(abs(datum.value),'.1f')", "tickSize": {"condition": {"test": "abs(datum.value/0.5-round(datum.value/0.5))>0.01", "value": 3}, "value": 6}, "labelPadding": 2, "title": "Ewe/V vs. Ag/AgCl", "titlePadding": 3}},
    "y": {"field": "i", "type": "quantitative", "scale": {"domain": [-0.000051, 0.000608], "nice": false, "zero": false},
     "axis": {"values": [-0.00005,0,0.00005,0.0001,0.00015,0.0002,0.00025,0.0003,0.00035,0.0004,0.00045,0.0005,0.00055,0.0006], "labelExpr": "abs(datum.value/0.0001-round(datum.value/0.0001))>0.01 ? '' : abs(datum.value)<1e-12 ? '0.0' : (datum.value<0?'-':'') + format(abs(datum.value)/pow(10,floor(log(abs(datum.value))/LN10+1e-6)),'.1f') + (floor(log(abs(datum.value))/LN10+1e-6)==-3 ? 'x10⁻³' : floor(log(abs(datum.value))/LN10+1e-6)==-4 ? 'x10⁻⁴' : 'x10⁻⁵')", "tickSize": {"condition": {"test": "abs(datum.value/0.0001-round(datum.value/0.0001))>0.01", "value": 3}, "value": 6}, "labelPadding": 3, "title": "<I> / mA", "titlePadding": 5}},
    "color": {"field": "t", "type": "nominal", "scale": {"domain": [15,20,25,30,35,40], "range": ["#000000","#ff0000","#ff8000","#ff00ff","#008000","#800000"]},
     "legend": {"orient": "none", "legendX": 238, "legendY": 53, "title": null, "symbolType": "M-5,0H1", "symbolSize": 100, "symbolStrokeWidth": 3, "labelFontSize": 13, "labelExpr": "datum.label + ' °C'", "rowPadding": 0.6, "labelOffset": 2}}
   }
  },
  {
   "width": 303, "height": 223,
   "title": {"text": "(b)", "orient": "bottom", "anchor": "start", "frame": "bounds", "baseline": "alphabetic", "offset": 0, "dy": 10, "dx": 0},
   "encoding": {
    "x": {"field": "x", "type": "quantitative", "scale": {"domain": [0.01416, 0.03661], "nice": false, "zero": false},
     "axis": {"values": [0.015,0.0175,0.02,0.0225,0.025,0.0275,0.03,0.0325,0.035], "labelExpr": "abs(datum.value/0.005-round(datum.value/0.005))>0.01 ? '' : format(datum.value,'.3f')", "tickSize": {"condition": {"test": "abs(datum.value/0.005-round(datum.value/0.005))>0.01", "value": 3}, "value": 6}, "labelPadding": 4, "title": "v¹/²", "titleX": 107, "titleY": 29, "titleBaseline": "alphabetic", "titleAlign": "center"}},
    "y": {"field": "y", "type": "quantitative", "scale": {"domain": [-0.002, 0.00202], "nice": false, "zero": false},
     "axis": {"values": [-0.002,-0.00175,-0.0015,-0.00125,-0.001,-0.00075,-0.0005,-0.00025,0,0.00025,0.0005,0.00075,0.001,0.00125,0.0015,0.00175,0.002], "labelExpr": "abs(datum.value/0.0005-round(datum.value/0.0005))>0.01 ? '' : abs(datum.value)<1e-12 ? '0.0' : (datum.value<0?'-':'') + format(abs(datum.value)/pow(10,floor(log(abs(datum.value))/LN10+1e-6)),'.1f') + (floor(log(abs(datum.value))/LN10+1e-6)==-3 ? 'x10⁻³' : floor(log(abs(datum.value))/LN10+1e-6)==-4 ? 'x10⁻⁴' : 'x10⁻⁵')", "tickSize": {"condition": {"test": "abs(datum.value/0.0005-round(datum.value/0.0005))>0.01", "value": 3}, "value": 6}, "labelPadding": 3, "title": "<I> / mA", "titlePadding": 5}}
   },
   "layer": [
    {
     "data": {"name": "fit"},
     "mark": {"type": "line", "strokeWidth": 2},
     "encoding": {
      "detail": {"field": "g", "type": "nominal"},
      "color": {"condition": {"test": "datum.g == 'Ia'", "value": "#ff0000"}, "value": "#000000"}
     }
    },
    {
     "data": {"name": "pts"},
     "mark": {"type": "point", "filled": true, "size": 110, "opacity": 1},
     "encoding": {
      "color": {"condition": {"test": "datum.g == 'Ia'", "value": "#111111"}, "value": "#e8141c"}
     }
    },
    {
     "data": {"name": "notes"},
     "mark": {"type": "text", "align": "left", "baseline": "middle", "fontSize": 10.5, "fontWeight": "bold", "font": "Liberation Serif", "color": "black"},
     "encoding": {
      "text": {"field": "t", "type": "nominal"}
     }
    }
   ]
  },
  {
   "width": 302, "height": 229,
   "data": {"name": "time"},
   "title": {"text": "(d)", "orient": "bottom", "anchor": "start", "frame": "bounds", "baseline": "alphabetic", "offset": 0, "dy": -3, "dx": 0},
   "mark": {"type": "line", "interpolate": "monotone", "strokeWidth": 3},
   "encoding": {
    "x": {"field": "e", "type": "quantitative", "scale": {"domain": [-1.258, 1.25], "nice": false, "zero": false},
     "axis": {"values": [-1,-0.75,-0.5,-0.25,0,0.25,0.5,0.75,1], "labelExpr": "abs(datum.value/0.5-round(datum.value/0.5))>0.01 ? '' : (datum.value<0?'-':'') + format(abs(datum.value),'.1f')", "tickSize": {"condition": {"test": "abs(datum.value/0.5-round(datum.value/0.5))>0.01", "value": 3}, "value": 6}, "labelPadding": 2, "title": "Ewe/V vs. Ag/AgCl", "titlePadding": 3}},
    "y": {"field": "i", "type": "quantitative", "scale": {"domain": [-0.0000255, 0.0004235], "nice": false, "zero": false},
     "axis": {"values": [0,0.000025,0.00005,0.000075,0.0001,0.000125,0.00015,0.000175,0.0002,0.000225,0.00025,0.000275,0.0003,0.000325,0.00035,0.000375,0.0004], "labelExpr": "abs(datum.value/0.00005-round(datum.value/0.00005))>0.01 ? '' : abs(datum.value)<1e-12 ? '0.0' : (datum.value<0?'-':'') + format(abs(datum.value)/pow(10,floor(log(abs(datum.value))/LN10+1e-6)),'.1f') + (floor(log(abs(datum.value))/LN10+1e-6)==-3 ? 'x10⁻³' : floor(log(abs(datum.value))/LN10+1e-6)==-4 ? 'x10⁻⁴' : 'x10⁻⁵')", "tickSize": {"condition": {"test": "abs(datum.value/0.00005-round(datum.value/0.00005))>0.01", "value": 3}, "value": 6}, "labelPadding": 3, "title": "<I> / mA", "titlePadding": 5}},
    "color": {"field": "t", "type": "nominal", "scale": {"domain": [25,20,15,10,5], "range": ["#ff00ff","#0000ff","#ff0000","#000000","#008000"]},
     "legend": {"orient": "none", "legendX": 221, "legendY": 51, "title": null, "symbolType": "M-5,0H1", "symbolSize": 100, "symbolStrokeWidth": 3, "labelFontSize": 13, "labelExpr": "datum.label + ' sec'", "rowPadding": 2, "labelOffset": 2}}
   }
  }
]
}
